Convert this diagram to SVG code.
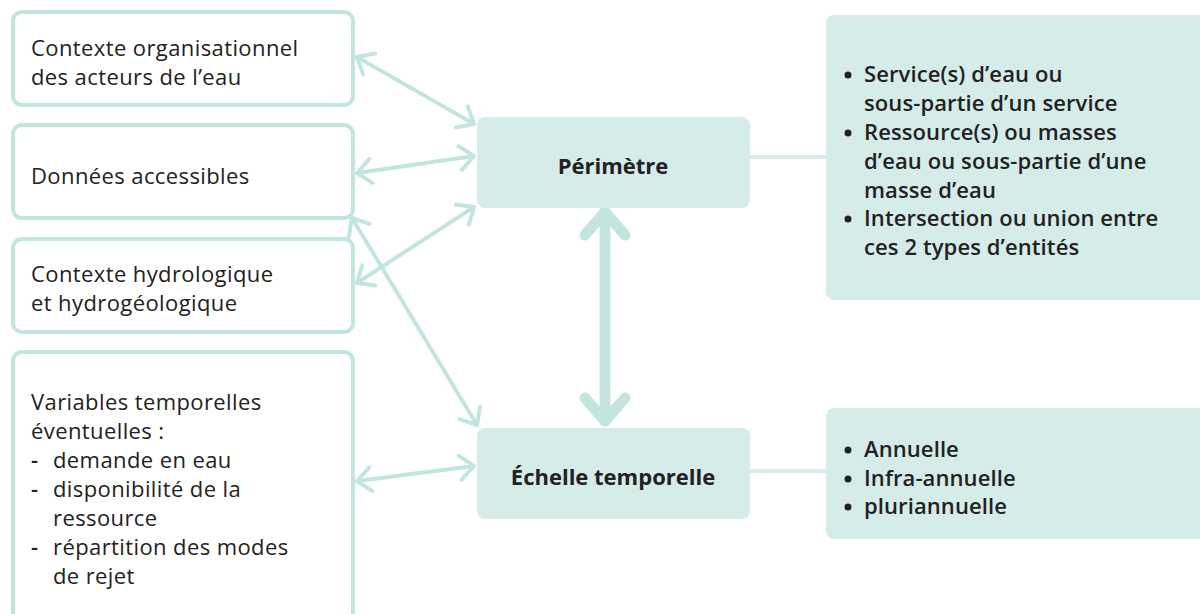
<svg xmlns="http://www.w3.org/2000/svg" width="1200" height="614" viewBox="0 0 1200 614">
<style>
.src{fill:#fff;stroke:#c3e5e0;stroke-width:4}
.main{fill:#d6ece9}
.t{font-family:"Open Sans","Noto Sans","Liberation Sans",sans-serif;font-size:22px;fill:#222;letter-spacing:0.4px}
.b{font-weight:bold;letter-spacing:0}
.m{font-weight:600;letter-spacing:0.1px}
.con{stroke:#c3e5e0;stroke-width:4;fill:none;stroke-linecap:round}
.thick{stroke:#c3e5e0;stroke-width:11;fill:none;stroke-linecap:round;stroke-linejoin:round}
.link{stroke:#d6ece9;stroke-width:4;fill:none}
.dot{fill:#222}
</style>
<defs>
<marker id="ah" markerUnits="userSpaceOnUse" markerWidth="40" markerHeight="40" viewBox="-20 -20 40 40" refX="0" refY="0" orient="auto-start-reverse">
<path d="M-14,-12 L0,0 L-14,12" fill="none" stroke="#c3e5e0" stroke-width="4" stroke-linecap="round" stroke-linejoin="round"/>
</marker>
</defs>

<g id="connectors">
<line class="con" x1="357" y1="57" x2="474" y2="124" marker-start="url(#ah)" marker-end="url(#ah)"/>
<line class="con" x1="357" y1="173" x2="474" y2="156" marker-start="url(#ah)" marker-end="url(#ah)"/>
<line class="con" x1="357" y1="283" x2="474" y2="207" marker-start="url(#ah)" marker-end="url(#ah)"/>
<line class="con" x1="352" y1="218" x2="477" y2="425" marker-start="url(#ah)" marker-end="url(#ah)"/>
<line class="con" x1="357" y1="481" x2="474" y2="466" marker-start="url(#ah)" marker-end="url(#ah)"/>
<line class="thick" x1="605" y1="212" x2="605" y2="421"/>
<path class="thick" d="M585,235 L605,212 L625,235"/>
<path class="thick" d="M585,398 L605,421 L625,398"/>
<line class="link" x1="749" y1="157" x2="826" y2="157"/>
<line class="link" x1="749" y1="471" x2="826" y2="471"/>
</g>

<g id="n-contexte-org">
<rect class="src" x="13" y="12" width="340" height="93" rx="9"/>
<text class="t" x="31" y="56">Contexte organisationnel</text>
<text class="t" x="31" y="85">des acteurs de l’eau</text>
</g>

<g id="n-donnees">
<rect class="src" x="13" y="125" width="340" height="93" rx="9"/>
<text class="t" x="31" y="184">Données accessibles</text>
</g>

<g id="n-contexte-hydro">
<rect class="src" x="13" y="239" width="340" height="93" rx="9"/>
<text class="t" x="31" y="282">Contexte hydrologique</text>
<text class="t" x="31" y="311">et hydrogéologique</text>
</g>

<g id="n-variables">
<rect class="src" x="13" y="352" width="340" height="270" rx="9"/>
<text class="t" x="31" y="410">Variables temporelles</text>
<text class="t" x="31" y="439">éventuelles :</text>
<text class="t m" x="31" y="468">-</text><text class="t" x="53" y="468">demande en eau</text>
<text class="t m" x="31" y="497">-</text><text class="t" x="53" y="497">disponibilité de la</text>
<text class="t" x="53" y="526">ressource</text>
<text class="t m" x="31" y="555">-</text><text class="t" x="53" y="555">répartition des modes</text>
<text class="t" x="53" y="584">de rejet</text>
</g>

<g id="n-perimetre">
<rect class="main" x="477" y="117" width="273" height="91" rx="8"/>
<text class="t b" x="613" y="174" text-anchor="middle">Périmètre</text>
</g>

<g id="n-echelle">
<rect class="main" x="477" y="428" width="273" height="91" rx="8"/>
<text class="t b" x="613" y="485" text-anchor="middle">Échelle temporelle</text>
</g>

<g id="n-perimetre-details">
<rect class="main" x="826" y="15" width="380" height="285" rx="8"/>
<circle class="dot" cx="848" cy="75" r="3.5"/>
<text class="t m" x="864" y="82">Service(s) d’eau ou</text>
<text class="t m" x="864" y="111">sous-partie d’un service</text>
<circle class="dot" cx="848" cy="133" r="3.5"/>
<text class="t m" x="864" y="140">Ressource(s) ou masses</text>
<text class="t m" x="864" y="169">d’eau ou sous-partie d’une</text>
<text class="t m" x="864" y="198">masse d’eau</text>
<circle class="dot" cx="848" cy="219" r="3.5"/>
<text class="t m" x="864" y="226">Intersection ou union entre</text>
<text class="t m" x="864" y="255">ces 2 types d’entités</text>
</g>

<g id="n-echelle-details">
<rect class="main" x="826" y="408" width="380" height="131" rx="8"/>
<circle class="dot" cx="848" cy="450" r="3.5"/>
<text class="t m" x="864" y="457">Annuelle</text>
<circle class="dot" cx="848" cy="479" r="3.5"/>
<text class="t m" x="864" y="486">Infra-annuelle</text>
<circle class="dot" cx="848" cy="507" r="3.5"/>
<text class="t m" x="864" y="514">pluriannuelle</text>
</g>
</svg>
